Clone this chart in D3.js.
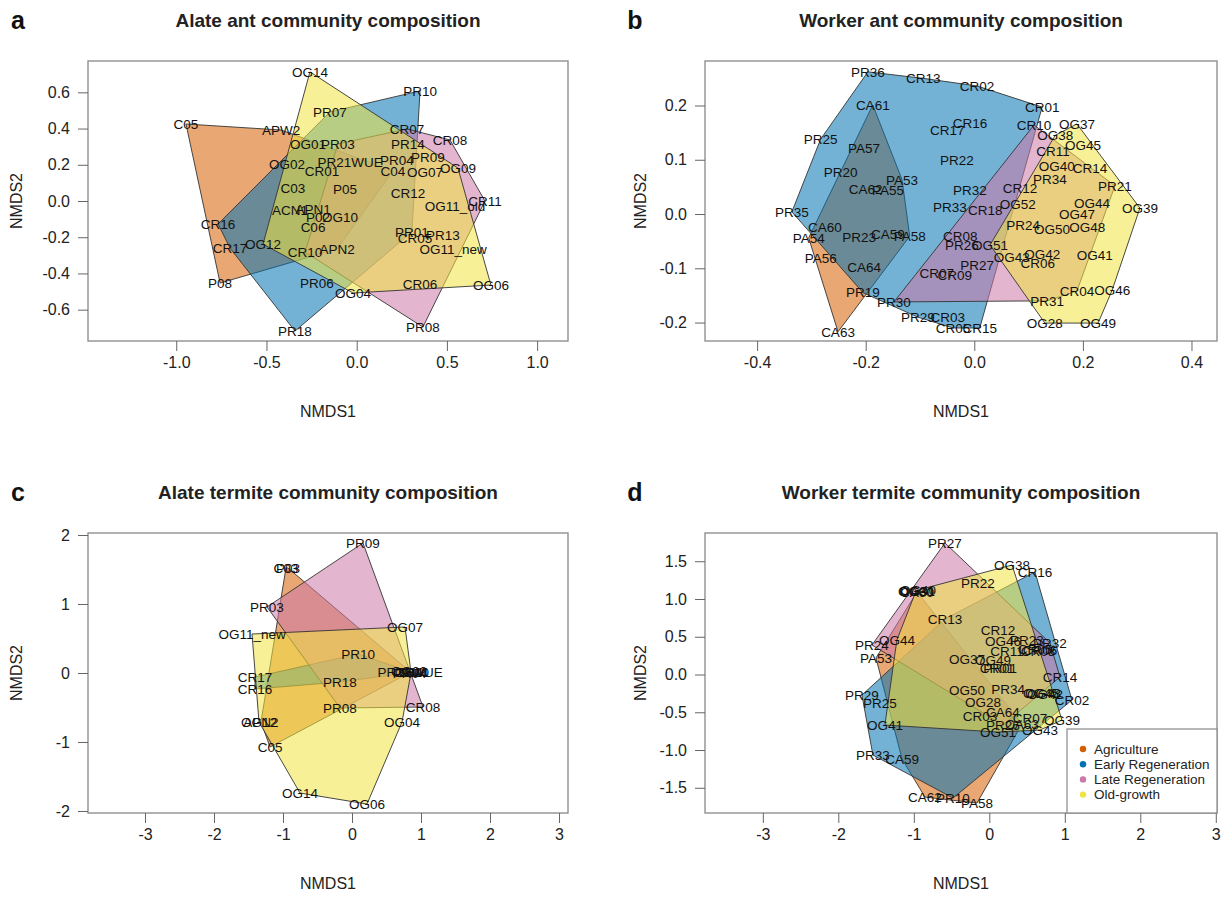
<!DOCTYPE html>
<html>
<head>
<meta charset="utf-8">
<script src="https://cdn.jsdelivr.net/npm/d3@7"></script>
<style>
body { margin: 0; background: #fff; }
text { font-family: "Liberation Sans", Arial, sans-serif; }
</style>
</head>
<body>
<svg id="fig" width="1229" height="897"></svg>
<script>
// groups (legend order) and their colours
var groups = ["Agriculture", "Early Regeneration", "Late Regeneration", "Old-growth"];
var groupColors = ["#D55E00", "#0072B2", "#CC79A7", "#F0E442"];
var groupCode = {A: 0, E: 1, L: 2, O: 3};

// a: alate ants
var aLabels = ["OG14","PR07","C05","APW2","OG01","PR03","OG02","PR21WUE","CR01","C03","P05","ACN1","APN1","P02","OG10","C06","CR10","APN2","OG12","CR16","CR17","P08","PR06","OG04","PR18","PR10","CR07","PR14","CR08","PR04","PR09","C04","OG07","OG09","CR12","OG11_old","CR11","PR01","CR05","PR13","OG11_new","CR06","OG06","PR08"];
var aX = [-0.259,-0.148,-0.946,-0.419,-0.270,-0.104,-0.386,-0.037,-0.192,-0.353,-0.065,-0.370,-0.242,-0.214,-0.093,-0.242,-0.286,-0.109,-0.519,-0.768,-0.702,-0.757,-0.220,-0.020,-0.342,0.351,0.279,0.284,0.517,0.223,0.395,0.201,0.378,0.561,0.284,0.545,0.711,0.306,0.323,0.478,0.534,0.351,0.744,0.367];
var aY = [0.713,0.492,0.425,0.392,0.315,0.315,0.204,0.215,0.166,0.072,0.066,-0.050,-0.044,-0.088,-0.088,-0.144,-0.282,-0.265,-0.238,-0.127,-0.260,-0.453,-0.453,-0.508,-0.718,0.608,0.398,0.315,0.337,0.227,0.243,0.166,0.160,0.182,0.044,-0.028,0.000,-0.171,-0.204,-0.188,-0.265,-0.459,-0.464,-0.696];
var aGroup = ["O","E","A","A","O","L","O","E","E","A","A","A","A","A","O","A","L","A","O","E","E","A","E","O","E","E","L","L","L","E","L","A","O","O","E","O","L","E","L","L","O","L","O","L"];

// b: worker ants
var bLabels = ["PR36","CR13","CR02","CR01","CR10","OG37","OG38","OG45","CR11","OG40","CR14","PR34","PR21","CR12","OG52","OG44","OG39","OG47","PR24","OG50","OG48","OG51","CR08","PR26","OG43","OG42","CR06","OG41","PR27","CR07","CR09","CR04","OG46","PR31","OG28","OG49","CR16","CR17","PR22","PR32","PR33","CR18","CA61","PR25","PA57","PR20","PA53","CA62","PA55","PR35","CA60","PA54","PR23","CA59","PA58","PA56","CA64","PR19","PR30","CA63","PR29","CR03","CR05","CR15"];
var bX = [-0.196,-0.094,0.005,0.125,0.110,0.189,0.149,0.200,0.145,0.152,0.213,0.139,0.259,0.084,0.080,0.217,0.305,0.189,0.090,0.143,0.208,0.029,-0.026,-0.023,0.069,0.125,0.117,0.222,0.005,-0.069,-0.036,0.189,0.254,0.134,0.130,0.228,-0.008,-0.050,-0.032,-0.008,-0.045,0.020,-0.187,-0.283,-0.203,-0.246,-0.133,-0.200,-0.159,-0.336,-0.275,-0.305,-0.212,-0.159,-0.119,-0.283,-0.203,-0.205,-0.148,-0.251,-0.104,-0.049,-0.039,0.010];
var bY = [0.262,0.250,0.236,0.197,0.164,0.166,0.145,0.127,0.116,0.088,0.085,0.064,0.052,0.048,0.018,0.020,0.011,0.000,-0.020,-0.029,-0.024,-0.057,-0.041,-0.057,-0.079,-0.074,-0.090,-0.076,-0.094,-0.109,-0.112,-0.142,-0.140,-0.160,-0.201,-0.201,0.168,0.155,0.099,0.044,0.013,0.007,0.201,0.138,0.122,0.077,0.063,0.046,0.044,0.004,-0.024,-0.044,-0.042,-0.037,-0.041,-0.081,-0.098,-0.145,-0.162,-0.217,-0.190,-0.190,-0.210,-0.210];
var bGroup = ["E","E","E","E","L","O","O","O","L","O","L","L","L","L","O","O","O","O","L","O","O","O","L","L","O","O","L","O","L","L","L","L","O","L","O","O","E","E","E","E","E","L","A","E","A","E","A","A","A","E","A","A","E","A","A","A","A","E","L","A","E","E","E","E"];

// c: alate termites
var cLabels = ["PR09","C03","P03","PR03","OG07","OG11_new","PR10","CR17","CR16","PR18","PR21WUE","OG02","OG10","C04","PR04","CR01","PR08","CR08","OG12","APN2","OG04","C05","OG14","OG06"];
var cX = [0.159,-0.957,-0.928,-1.232,0.768,-1.449,0.087,-1.406,-1.406,-0.174,0.841,0.826,0.855,0.848,0.836,0.870,-0.174,1.029,-1.348,-1.319,0.725,-1.188,-0.754,0.217];
var cY = [1.884,1.522,1.522,0.957,0.667,0.565,0.275,-0.058,-0.232,-0.130,0.014,0.020,0.005,0.012,0.000,0.010,-0.507,-0.493,-0.710,-0.710,-0.710,-1.072,-1.739,-1.899];
var cGroup = ["L","A","A","L","O","O","E","E","E","E","E","O","O","A","L","E","L","L","O","A","O","A","O","O"];

// d: worker termites
var dLabels = ["PR27","OG38","CR16","PR22","OG31","OG30","OG40","CA60","CR13","CR12","OG46","PR23","PR32","CR11","CR05","CR06","CR08","PR24","OG44","PA53","OG37","OG49","CR01","PR01","CR14","PR29","PR25","OG50","PR34","OG48","OG45","OG42","CR02","OG28","CA64","CR03","CR07","OG39","PR26","CA63","OG51","OG43","OG41","PR33","CA59","CA62","PR10","PA58"];
var dX = [-0.587,0.301,0.605,-0.150,-0.958,-0.971,-0.944,-0.958,-0.587,0.115,0.181,0.499,0.804,0.234,0.605,0.672,0.645,-1.554,-1.224,-1.501,-0.295,0.049,0.102,0.142,0.936,-1.687,-1.448,-0.295,0.248,0.711,0.685,0.738,1.095,-0.083,0.181,-0.123,0.539,0.963,0.181,0.433,0.115,0.672,-1.383,-1.542,-1.156,-0.852,-0.481,-0.163];
var dY = [1.742,1.450,1.358,1.212,1.106,1.106,1.119,1.093,0.735,0.589,0.444,0.454,0.417,0.311,0.338,0.325,0.311,0.391,0.457,0.219,0.205,0.192,0.086,0.086,-0.033,-0.272,-0.377,-0.205,-0.192,-0.245,-0.245,-0.258,-0.338,-0.364,-0.497,-0.550,-0.576,-0.603,-0.669,-0.656,-0.762,-0.735,-0.669,-1.066,-1.119,-1.623,-1.636,-1.702];
var dGroup = ["L","O","E","L","O","O","O","A","E","E","O","L","L","E","E","E","E","L","O","A","O","O","E","L","L","E","E","O","L","O","O","O","E","O","A","E","E","O","L","A","O","O","O","E","A","A","E","A"];

// axis limits and ticks
var aXLim = [-1.489, 1.171], aYLim = [-0.773, 0.773];
var aXTicks = [-1.0, -0.5, 0.0, 0.5, 1.0], aYTicks = [-0.6, -0.4, -0.2, 0.0, 0.2, 0.4, 0.6];
var bXLim = [-0.496, 0.447], bYLim = [-0.234, 0.282];
var bXTicks = [-0.4, -0.2, 0.0, 0.2, 0.4], bYTicks = [-0.2, -0.1, 0.0, 0.1, 0.2];
var cXLim = [-3.826, 3.130], cYLim = [-2.029, 2.029];
var cXTicks = [-3, -2, -1, 0, 1, 2, 3], cYTicks = [-2, -1, 0, 1, 2];
var dXLim = [-3.766, 3.016], dYLim = [-1.834, 1.874];
var dXTicks = [-3, -2, -1, 0, 1, 2, 3], dYTicks = [-1.5, -1.0, -0.5, 0.0, 0.5, 1.0, 1.5];

function NmdsPanel(){
    var frame = {left: 88, top: 61, width: 480, height: 280},
        xLim = [-1, 1], yLim = [-1, 1],
        xTicks = [], yTicks = [], xDigits = 1, yDigits = 1,
        title = "", letter = "", ylabGap = 72;

    function my(svg, labels, xs, ys, grp){
        var xScale = d3.scaleLinear().domain(xLim).range([frame.left, frame.left + frame.width]);
        var yScale = d3.scaleLinear().domain(yLim).range([frame.top + frame.height, frame.top]);

        var pts = labels.map(function(d, i){
            return {label: d, x: xs[i], y: ys[i], g: groupCode[grp[i]]};
        });

        var g = svg.append("g");

        g.append("rect")
            .attr("x", frame.left).attr("y", frame.top)
            .attr("width", frame.width).attr("height", frame.height)
            .attr("fill", "none").attr("stroke", "#888").attr("stroke-width", 1.3);

        // convex hulls per group
        groups.forEach(function(name, gi){
            var hull = d3.polygonHull(pts.filter(function(p){ return p.g === gi; })
                .map(function(p){ return [xScale(p.x), yScale(p.y)]; }));
            if(!hull) return;
            g.append("path")
                .attr("d", "M" + hull.join("L") + "Z")
                .attr("fill", groupColors[gi])
                .attr("fill-opacity", 0.55)
                .attr("stroke", "#333")
                .attr("stroke-width", 0.9);
        });

        g.append("g")
            .selectAll("text")
            .data(pts)
            .enter().append("text")
            .attr("x", function(d){ return xScale(d.x); })
            .attr("y", function(d){ return yScale(d.y); })
            .attr("dy", "0.35em")
            .attr("text-anchor", "middle")
            .attr("font-size", 13.5)
            .attr("fill", "#111")
            .text(function(d){ return d.label; });

        var xAxis = d3.axisBottom(xScale).tickValues(xTicks)
            .tickFormat(function(d){ return d.toFixed(xDigits); })
            .tickSize(10).tickSizeOuter(0).tickPadding(6);
        var yAxis = d3.axisLeft(yScale).tickValues(yTicks)
            .tickFormat(function(d){ return d.toFixed(yDigits); })
            .tickSize(10).tickSizeOuter(0).tickPadding(8);

        var gx = g.append("g")
            .attr("transform", "translate(0," + (frame.top + frame.height) + ")")
            .call(xAxis);
        var gy = g.append("g")
            .attr("transform", "translate(" + frame.left + ",0)")
            .call(yAxis);
        [gx, gy].forEach(function(ax){
            ax.select(".domain").remove();
            ax.selectAll("line").attr("stroke", "#666");
            ax.selectAll("text").attr("font-size", 16).attr("fill", "#222")
                .attr("font-family", "Liberation Sans, Arial, sans-serif");
        });

        g.append("text")
            .attr("x", frame.left + frame.width / 2)
            .attr("y", frame.top + frame.height + 70)
            .attr("dy", "0.35em")
            .attr("text-anchor", "middle")
            .attr("font-size", 16).attr("fill", "#222")
            .text("NMDS1");

        g.append("text")
            .attr("transform", "translate(" + (frame.left - ylabGap) + "," + (frame.top + frame.height / 2) + ") rotate(-90)")
            .attr("dy", "0.35em")
            .attr("text-anchor", "middle")
            .attr("font-size", 16).attr("fill", "#222")
            .text("NMDS2");

        g.append("text")
            .attr("x", frame.left + frame.width / 2)
            .attr("y", frame.top - 41)
            .attr("dy", "0.35em")
            .attr("text-anchor", "middle")
            .attr("font-size", 19).attr("font-weight", "bold").attr("fill", "#222")
            .text(title);

        g.append("text")
            .attr("x", frame.left - 70)
            .attr("y", frame.top - 41)
            .attr("dy", "0.35em")
            .attr("text-anchor", "middle")
            .attr("font-size", 25).attr("font-weight", "bold").attr("fill", "#111")
            .text(letter);

        return g;
    }

    my.frame = function(value){ if(!arguments.length) return frame; frame = value; return my; };
    my.xLim = function(value){ if(!arguments.length) return xLim; xLim = value; return my; };
    my.yLim = function(value){ if(!arguments.length) return yLim; yLim = value; return my; };
    my.xTicks = function(value){ if(!arguments.length) return xTicks; xTicks = value; return my; };
    my.yTicks = function(value){ if(!arguments.length) return yTicks; yTicks = value; return my; };
    my.digits = function(xd, yd){ xDigits = xd; yDigits = yd; return my; };
    my.title = function(value){ if(!arguments.length) return title; title = value; return my; };
    my.letter = function(value){ if(!arguments.length) return letter; letter = value; return my; };
    my.ylabGap = function(value){ if(!arguments.length) return ylabGap; ylabGap = value; return my; };

    return my;
}

var svg = d3.select("#fig");

NmdsPanel()
    .frame({left: 88, top: 61, width: 480, height: 280})
    .xLim(aXLim).yLim(aYLim).xTicks(aXTicks).yTicks(aYTicks).digits(1, 1)
    .title("Alate ant community composition").letter("a").ylabGap(72)
    (svg, aLabels, aX, aY, aGroup);

NmdsPanel()
    .frame({left: 705, top: 61, width: 512, height: 280})
    .xLim(bXLim).yLim(bYLim).xTicks(bXTicks).yTicks(bYTicks).digits(1, 1)
    .title("Worker ant community composition").letter("b").ylabGap(65)
    (svg, bLabels, bX, bY, bGroup);

NmdsPanel()
    .frame({left: 88, top: 533, width: 480, height: 280})
    .xLim(cXLim).yLim(cYLim).xTicks(cXTicks).yTicks(cYTicks).digits(0, 0)
    .title("Alate termite community composition").letter("c").ylabGap(72)
    (svg, cLabels, cX, cY, cGroup);

var dPanel = NmdsPanel()
    .frame({left: 705, top: 533, width: 512, height: 280})
    .xLim(dXLim).yLim(dYLim).xTicks(dXTicks).yTicks(dYTicks).digits(0, 1)
    .title("Worker termite community composition").letter("d").ylabGap(65);
var dG = dPanel(svg, dLabels, dX, dY, dGroup);

// legend, bottom right of panel d
var lg = dG.append("g").attr("transform", "translate(1067,729)");
lg.append("rect")
    .attr("width", 150).attr("height", 84)
    .attr("fill", "#fff").attr("stroke", "#888").attr("stroke-width", 1.2);
var item = lg.selectAll(".item")
    .data(groups)
    .enter().append("g")
    .attr("class", "item")
    .attr("transform", function(d, i){ return "translate(0," + (20 + i * 15.2) + ")"; });
item.append("circle")
    .attr("cx", 16).attr("r", 3.2)
    .attr("fill", function(d, i){ return groupColors[i]; });
item.append("text")
    .attr("x", 27).attr("dy", "0.35em")
    .attr("font-size", 13.5).attr("fill", "#222")
    .text(function(d){ return d; });
</script>
</body>
</html>
